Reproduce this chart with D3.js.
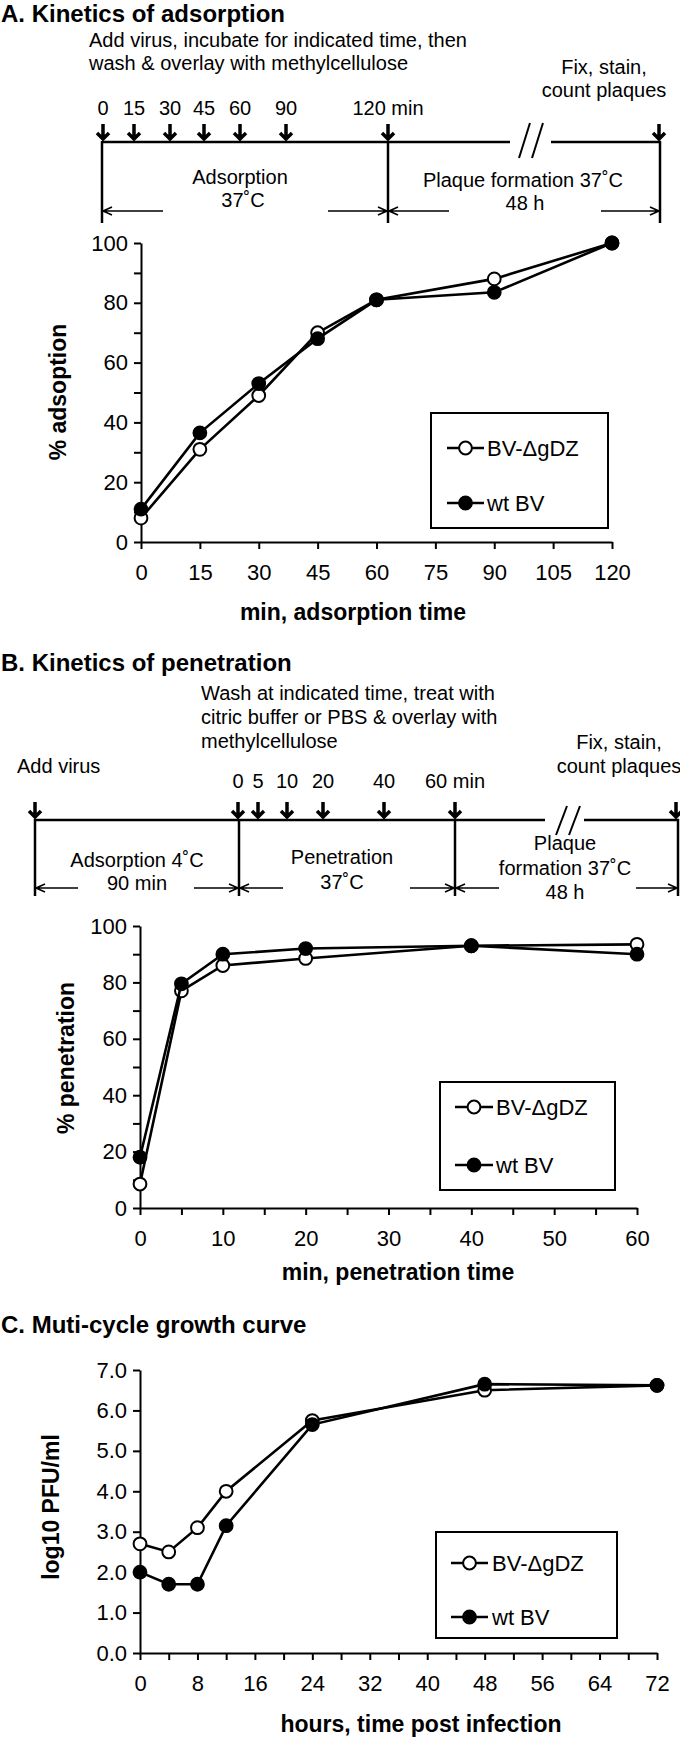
<!DOCTYPE html>
<html>
<head>
<meta charset="utf-8">
<script src="https://cdn.jsdelivr.net/npm/d3@7"></script>
<style>
  body { margin: 0; background: #fff; }
  text { font-family: "Liberation Sans", Arial, sans-serif; fill: #000; }
</style>
</head>
<body>
<svg id="fig" width="680" height="1739"></svg>
<script>
// ---- data ----
const seriesNames = ["BV-\u0394gDZ", "wt BV"];

const adsTime = [0, 15, 30, 45, 60, 90, 120];
const adsMutant = [8, 31, 49, 70, 81, 88, 100];
const adsWild = [11, 36.5, 53, 68, 81, 83.5, 100];

const penTime = [0, 5, 10, 20, 40, 60];
const penMutant = [8.5, 77, 86, 88.5, 93, 93.5];
const penWild = [18, 79.5, 90, 92, 93, 90];

const growthTime = [0, 4, 8, 12, 24, 48, 72];
const growthMutant = [2.7, 2.5, 3.1, 4.0, 5.75, 6.5, 6.62];
const growthWild = [2.0, 1.7, 1.7, 3.15, 5.65, 6.65, 6.62];

// timeline sampling marks (schematic)
const adsMarks = ["0", "15", "30", "45", "60", "90", "120 min"];
const penMarks = ["0", "5", "10", "20", "40", "60 min"];

const svg = d3.select("#fig");

function label(g, x, y, str, opt = {}) {
  return g.append("text")
    .attr("x", x)
    .attr("y", y)
    .attr("dy", "0.35em")
    .attr("text-anchor", opt.anchor || "start")
    .attr("font-size", opt.size || 20)
    .attr("font-weight", opt.bold ? "bold" : null)
    .text(str);
}

// thick downward arrow, tip at (x, yTip)
function downArrow(g, x, yTip) {
  g.append("path")
    .attr("d", `M${x},${yTip - 17}V${yTip - 2}M${x - 6},${yTip - 8}L${x},${yTip - 2}L${x + 6},${yTip - 8}`)
    .attr("fill", "none")
    .attr("stroke", "#000")
    .attr("stroke-width", 3.5);
}

// thin arrow from xFrom to xTo with head at xTo
function sideArrow(g, xFrom, xTo, y) {
  const d = xTo > xFrom ? -1 : 1;
  g.append("path")
    .attr("d", `M${xFrom},${y}H${xTo}M${xTo + d * 9},${y - 4}L${xTo},${y}L${xTo + d * 9},${y + 4}`)
    .attr("fill", "none")
    .attr("stroke", "#000")
    .attr("stroke-width", 1.6);
}

function hline(g, x1, x2, y, w) {
  g.append("line").attr("x1", x1).attr("x2", x2).attr("y1", y).attr("y2", y)
    .attr("stroke", "#000").attr("stroke-width", w || 2.5);
}

function vline(g, x, y1, y2, w) {
  g.append("line").attr("x1", x).attr("x2", x).attr("y1", y1).attr("y2", y2)
    .attr("stroke", "#000").attr("stroke-width", w || 2.5);
}

function breakMark(g, x, yTop, yBot) {
  [0, 13].forEach(dx => {
    g.append("line")
      .attr("x1", x + dx).attr("y1", yBot)
      .attr("x2", x + dx + 11).attr("y2", yTop)
      .attr("stroke", "#000").attr("stroke-width", 2);
  });
}

// ---- generic line chart ----
function drawPlot(p) {
  const x = d3.scaleLinear().domain([p.xMin, p.xMax]).range([p.left, p.right]);
  const y = d3.scaleLinear().domain([p.yMin, p.yMax]).range([p.bottom, p.top]);
  const g = svg.append("g");

  const xTicks = d3.range(p.xMin, p.xMax + 1e-9, p.xStep);
  const yTicks = d3.range(p.yMin, p.yMax + 1e-9, p.yStep);

  const gx = g.append("g")
    .attr("transform", `translate(0,${p.bottom})`)
    .call(d3.axisBottom(x)
      .tickValues(xTicks)
      .tickSize(7)
      .tickSizeOuter(0)
      .tickPadding(15)
      .tickFormat((d, i) => (i % p.xEvery === 0 ? p.xFmt(d) : "")));

  const gy = g.append("g")
    .attr("transform", `translate(${p.left},0)`)
    .call(d3.axisLeft(y)
      .tickValues(yTicks)
      .tickSize(7)
      .tickSizeOuter(0)
      .tickPadding(6)
      .tickFormat((d, i) => (i % p.yEvery === 0 ? p.yFmt(d) : "")));

  [gx, gy].forEach(a => {
    a.attr("font-size", 22).attr("font-family", null);
    a.selectAll(".domain, .tick line").attr("stroke", "#000").attr("stroke-width", 2);
  });

  // axis titles
  label(g, p.xTitleX, p.xTitleY, p.xTitle, { anchor: "middle", bold: true, size: 23 });
  g.append("text")
    .attr("transform", `translate(${p.yTitleX},${p.yTitleY}) rotate(-90)`)
    .attr("text-anchor", "middle")
    .attr("dy", "0.35em")
    .attr("font-size", 23)
    .attr("font-weight", "bold")
    .text(p.yTitle);

  const lineGen = d3.line()
    .x((d, i) => x(p.xs[i]))
    .y(d => y(d));

  const series = [
    { values: p.mutant, fill: "#fff" },
    { values: p.wild, fill: "#000" }
  ];

  series.forEach(s => {
    g.append("path")
      .datum(s.values)
      .attr("d", lineGen)
      .attr("fill", "none")
      .attr("stroke", "#000")
      .attr("stroke-width", 2.6);
    g.selectAll(null)
      .data(s.values)
      .join("circle")
      .attr("cx", (d, i) => x(p.xs[i]))
      .attr("cy", d => y(d))
      .attr("r", 6.4)
      .attr("fill", s.fill)
      .attr("stroke", "#000")
      .attr("stroke-width", 2);
  });

  // legend
  const lg = p.legend;
  g.append("rect")
    .attr("x", lg.x0).attr("y", lg.y0)
    .attr("width", lg.x1 - lg.x0).attr("height", lg.y1 - lg.y0)
    .attr("fill", "#fff").attr("stroke", "#000").attr("stroke-width", 2);
  series.forEach((s, i) => {
    const yy = lg.rows[i];
    hline(g, lg.lineX0, lg.lineX1, yy, 2.6);
    g.append("circle")
      .attr("cx", (lg.lineX0 + lg.lineX1) / 2).attr("cy", yy).attr("r", 6.4)
      .attr("fill", s.fill).attr("stroke", "#000").attr("stroke-width", 2);
    label(g, lg.textX, yy, seriesNames[i], { size: 22 });
  });
}

// ================= Panel A =================
const gA = svg.append("g");
label(gA, 1, 14, "A. Kinetics of adsorption", { bold: true, size: 24 });
label(gA, 89, 40, "Add virus, incubate for indicated time, then");
label(gA, 89, 63, "wash & overlay with methylcellulose");
label(gA, 604, 67, "Fix, stain,", { anchor: "middle" });
label(gA, 604, 90, "count plaques", { anchor: "middle" });

const adsMarkX = [103, 134, 170, 204, 240, 286, 388];
adsMarks.forEach((m, i) => {
  label(gA, adsMarkX[i], 108, m, { anchor: "middle" });
  downArrow(gA, adsMarkX[i], 141);
});
downArrow(gA, 659, 141);

hline(gA, 102, 510, 142);
hline(gA, 551, 661, 142);
breakMark(gA, 519, 123, 158);
vline(gA, 102, 141, 223);
vline(gA, 388, 141, 223);
vline(gA, 660, 141, 223);

label(gA, 240, 177, "Adsorption", { anchor: "middle" });
label(gA, 243, 200, "37\u02DAC", { anchor: "middle" });
label(gA, 523, 180, "Plaque formation 37\u02DAC", { anchor: "middle" });
label(gA, 525, 203, "48 h", { anchor: "middle" });
sideArrow(gA, 163, 103, 211);
sideArrow(gA, 328, 387, 211);
sideArrow(gA, 449, 389, 211);
sideArrow(gA, 601, 659, 211);

drawPlot({
  xs: adsTime, mutant: adsMutant, wild: adsWild,
  xMin: 0, xMax: 120, xStep: 15, xEvery: 1, xFmt: d3.format("d"),
  yMin: 0, yMax: 100, yStep: 10, yEvery: 2, yFmt: d3.format("d"),
  left: 141, right: 612, top: 243, bottom: 542,
  xTitle: "min, adsorption time", xTitleX: 353, xTitleY: 612,
  yTitle: "% adsoption", yTitleX: 58, yTitleY: 392,
  legend: { x0: 431, x1: 608, y0: 413, y1: 528, rows: [448, 503], lineX0: 447, lineX1: 484, textX: 487 }
});

// ================= Panel B =================
const gB = svg.append("g");
label(gB, 1, 663, "B. Kinetics of penetration", { bold: true, size: 24 });
label(gB, 201, 693, "Wash at indicated time, treat with");
label(gB, 201, 717, "citric buffer or PBS & overlay with");
label(gB, 201, 741, "methylcellulose");
label(gB, 17, 766, "Add virus");
label(gB, 619, 742, "Fix, stain,", { anchor: "middle" });
label(gB, 619, 766, "count plaques", { anchor: "middle" });

const penMarkX = [238, 258, 287, 323, 384, 455];
penMarks.forEach((m, i) => {
  label(gB, penMarkX[i], 781, m, { anchor: "middle" });
  downArrow(gB, penMarkX[i], 819);
});
downArrow(gB, 35, 819);
downArrow(gB, 676, 819);

hline(gB, 35, 545, 820);
hline(gB, 584, 679, 820);
breakMark(gB, 556, 806, 835);
vline(gB, 35, 819, 896);
vline(gB, 239, 819, 896);
vline(gB, 455, 819, 896);
vline(gB, 678, 819, 896);

label(gB, 137, 860, "Adsorption 4\u02DAC", { anchor: "middle" });
label(gB, 137, 883, "90 min", { anchor: "middle" });
label(gB, 342, 857, "Penetration", { anchor: "middle" });
label(gB, 342, 882, "37\u02DAC", { anchor: "middle" });
label(gB, 565, 843, "Plaque", { anchor: "middle" });
label(gB, 565, 868, "formation 37\u02DAC", { anchor: "middle" });
label(gB, 565, 892, "48 h", { anchor: "middle" });
sideArrow(gB, 78, 36, 888);
sideArrow(gB, 194, 238, 888);
sideArrow(gB, 283, 240, 888);
sideArrow(gB, 410, 454, 888);
sideArrow(gB, 499, 456, 888);
sideArrow(gB, 636, 677, 888);

drawPlot({
  xs: penTime, mutant: penMutant, wild: penWild,
  xMin: 0, xMax: 60, xStep: 5, xEvery: 2, xFmt: d3.format("d"),
  yMin: 0, yMax: 100, yStep: 10, yEvery: 2, yFmt: d3.format("d"),
  left: 140, right: 637, top: 926, bottom: 1208,
  xTitle: "min, penetration time", xTitleX: 398, xTitleY: 1272,
  yTitle: "% penetration", yTitleX: 66, yTitleY: 1058,
  legend: { x0: 440, x1: 615, y0: 1082, y1: 1190, rows: [1107, 1165], lineX0: 455, lineX1: 493, textX: 496 }
});

// ================= Panel C =================
const gC = svg.append("g");
label(gC, 1, 1325, "C. Muti-cycle growth curve", { bold: true, size: 24 });

drawPlot({
  xs: growthTime, mutant: growthMutant, wild: growthWild,
  xMin: 0, xMax: 72, xStep: 4, xEvery: 2, xFmt: d3.format("d"),
  yMin: 0, yMax: 7, yStep: 1, yEvery: 1, yFmt: d3.format(".1f"),
  left: 140, right: 657, top: 1370, bottom: 1653,
  xTitle: "hours, time post infection", xTitleX: 421, xTitleY: 1724,
  yTitle: "log10 PFU/ml", yTitleX: 51, yTitleY: 1507,
  legend: { x0: 436, x1: 617, y0: 1532, y1: 1638, rows: [1563, 1617], lineX0: 451, lineX1: 488, textX: 492 }
});
</script>
</body>
</html>
